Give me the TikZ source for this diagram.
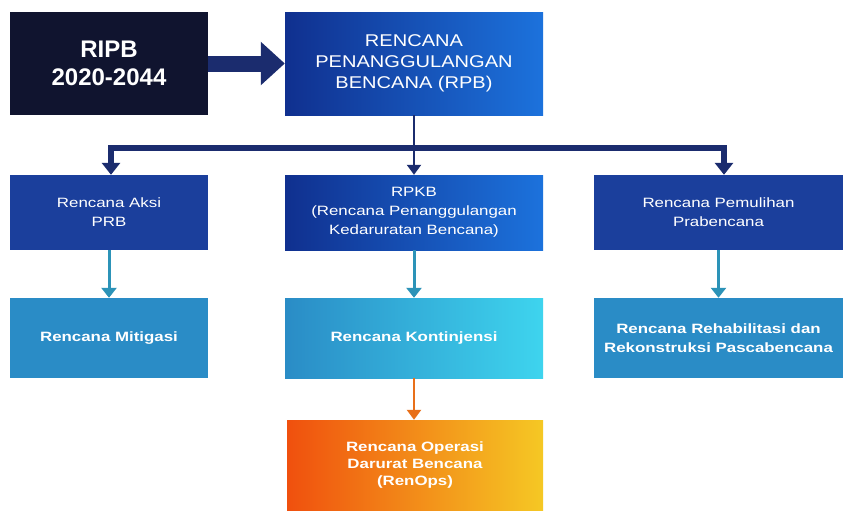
\documentclass[tikz,border=0pt]{standalone}
\usepackage{fontspec}
\setmainfont{Liberation Sans}
\newfontfamily\wf[FakeStretch=1.25]{Liberation Sans}
\newfontfamily\mf[FakeStretch=1.18]{Liberation Sans}
\usetikzlibrary{arrows.meta,calc}
\definecolor{ripbc}{HTML}{10142F}
\definecolor{navyarrow}{HTML}{1B2C6E}
\definecolor{darkblue}{HTML}{1B3F9C}
\definecolor{rpbL}{HTML}{10308F}
\definecolor{rpbR}{HTML}{1C72DC}
\definecolor{midblue}{HTML}{2A8CC6}
\definecolor{cyanR}{HTML}{3ED4EE}
\definecolor{tealarrow}{HTML}{2C93B8}
\definecolor{orangeL}{HTML}{F0500E}
\definecolor{yellowR}{HTML}{F5C824}
\definecolor{orangearrow}{HTML}{E8701A}
\begin{document}
\begin{tikzpicture}[x=1pt,y=-1pt,
  box/.style={draw=none,text=white,align=center,inner sep=2pt},
  big/.style={box,font=\fontsize{24}{28}\selectfont\bfseries},
  med/.style={box,font=\mf\fontsize{17}{21}\selectfont},
  small/.style={box,font=\wf\fontsize{13.5}{19}\selectfont},
  smallb/.style={box,font=\wf\fontsize{13.5}{19}\selectfont\bfseries},
  navyline/.style={draw=navyarrow,line width=6pt},
  navyarr/.style={navyline,-{Triangle[width=18pt,length=12pt]}},
  thinarr/.style={draw=navyarrow,line width=2pt,-{Triangle[width=14pt,length=10pt]}},
  tealarr/.style={draw=tealarrow,line width=3pt,-{Triangle[width=15pt,length=10pt]}},
  orangearr/.style={draw=orangearrow,line width=2.5pt,-{Triangle[width=14pt,length=10pt]}},
]
\useasboundingbox (0,0) rectangle (844,512);
\fill[white] (0,0) rectangle (844,512);

% row 1
\node[big,fill=ripbc,minimum width=198pt,minimum height=103pt] (ripb) at (109,63.5) {RIPB\\2020-2044};
\node[med,left color=rpbL,right color=rpbR,minimum width=258pt,minimum height=103pt] (rpb) at (414,63.5) {RENCANA\\PENANGGULANGAN\\BENCANA (RPB)};

% row 2
\node[small,fill=darkblue,minimum width=198pt,minimum height=75pt] (aksi) at (109,212.5) {Rencana Aksi\\PRB};
\node[small,left color=rpbL,right color=rpbR,minimum width=258pt,minimum height=75pt] (rpkb) at (414,212.5) {RPKB\\(Rencana Penanggulangan\\Kedaruratan Bencana)};
\node[small,fill=darkblue,minimum width=249pt,minimum height=75pt] (pem) at (718.5,212.5) {Rencana Pemulihan\\Prabencana};

% row 3
\node[smallb,fill=midblue,minimum width=198pt,minimum height=80pt] (mit) at (109,338) {Rencana Mitigasi};
\node[smallb,left color=midblue,right color=cyanR,minimum width=258pt,minimum height=80pt] (kon) at (414,338) {Rencana Kontinjensi};
\node[smallb,fill=midblue,minimum width=249pt,minimum height=80pt] (reh) at (718.5,338) {Rencana Rehabilitasi dan\\Rekonstruksi Pascabencana};

% row 4
\node[smallb,left color=orangeL,right color=yellowR,minimum width=256pt,minimum height=90pt,font=\wf\fontsize{13.5}{17}\selectfont\bfseries] (ops) at (415,465) {Rencana Operasi\\Darurat Bencana\\(RenOps)};

% connectors
\draw[line width=16pt,draw=navyarrow,-{Triangle[width=42pt,length=24pt]}] (ripb.east) -- (rpb.west);

\coordinate (bl) at (111,148);
\coordinate (br) at (724,148);
\draw[navyline] ($(bl)+(-3,0)$) -- ($(br)+(3,0)$);
\draw[navyarr] (bl) -- (bl |- aksi.north);
\draw[navyarr] (br) -- (br |- pem.north);
\draw[thinarr] (rpb.south) -- (rpkb.north);

\draw[tealarr] (aksi.south) -- (mit.north);
\draw[tealarr] (rpkb.south) -- (kon.north);
\draw[tealarr] (pem.south) -- (pem.south |- reh.north);

\draw[orangearr] (kon.south) -- (kon.south |- ops.north);
\end{tikzpicture}
\end{document}
